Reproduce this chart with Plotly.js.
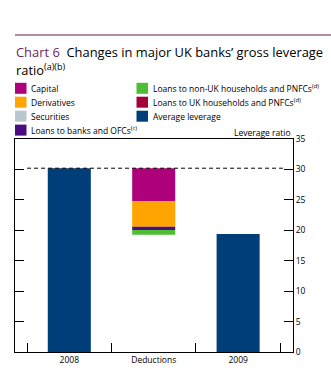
<!DOCTYPE html>
<html>
<head>
<meta charset="utf-8">
<script src="https://cdn.plot.ly/plotly-3.0.1.min.js"></script>
<style>html,body{margin:0;padding:0;background:#fff;}#chart{width:331px;height:369px;}</style>
</head>
<body>
<div id="chart"></div>
<script>
// ---- data ----
var categories = ['2008', 'Deductions', '2009'];
var leverageYears = ['2008', '2009'];
var leverageValues = [30.2, 19.4];
var deductionNames = ['Capital', 'Derivatives', 'Securities', 'Loans to banks and OFCs<sup>(c)</sup>',
  'Loans to UK households and PNFCs<sup>(d)</sup>', 'Loans to non-UK households and PNFCs<sup>(d)</sup>'];
var deductionValues = [5.4, 4.2, 0.0, 0.55, 0.0, 0.8];
var deductionColors = ['#AE007B', '#FFA400', '#BCC6CD', '#4B0C82', '#A5003A', '#4DBE34'];
var leverageName = 'Average leverage';
var leverageColor = '#003E79';
var yTicks = [0, 5, 10, 15, 20, 25, 30, 35];

// ---- traces ----
var traces = [];
var runningTop = leverageValues[0];
for (var i = 0; i < deductionNames.length; i++) {
  traces.push({
    type: 'bar', x: ['Deductions'], y: [deductionValues[i]], base: [runningTop - deductionValues[i]],
    name: deductionNames[i], marker: {color: deductionColors[i], line: {width: 0}},
    width: 0.51, showlegend: false, hoverinfo: 'skip'
  });
  runningTop -= deductionValues[i];
}
traces.push({
  type: 'bar', x: leverageYears, y: leverageValues, name: leverageName,
  marker: {color: leverageColor, line: {width: 0}}, width: 0.51, showlegend: false, hoverinfo: 'skip'
});

// ---- layout helpers ----
var L = 15, R = 293, T = 139, B = 352;
function px(x) { return (x - L) / (R - L); }
function py(y) { return (B - y) / (B - T); }

var shapes = [
  {type: 'line', xref: 'x', yref: 'y', x0: -0.5, x1: 2.53, y0: leverageValues[0], y1: leverageValues[0],
   line: {color: '#000', width: 1, dash: '4px,3px'}},
  {type: 'line', xref: 'paper', yref: 'paper', x0: px(15), x1: px(331), y0: py(35), y1: py(35),
   line: {color: '#5B1D50', width: 1}}
];
var annotations = [
  {xref: 'paper', yref: 'paper', x: px(292.5), y: py(132), xanchor: 'right', yanchor: 'middle',
   text: 'Leverage ratio', showarrow: false, font: {size: 8.5, color: '#000'}},
  {xref: 'paper', yref: 'paper', x: px(14), y: py(52), xanchor: 'left', yanchor: 'middle',
   text: "<span style='color:#6E1F60'>Chart 6</span>  Changes in major UK banks’ gross leverage",
   showarrow: false, font: {size: 12.9, color: '#000'}},
  {xref: 'paper', yref: 'paper', x: px(14), y: py(69.5), xanchor: 'left', yanchor: 'middle',
   text: "ratio<sup>(a)(b)</sup>", showarrow: false, font: {size: 12.9, color: '#000'}}
];

// legend (manual, two columns)
var legendItems = [
  {name: deductionNames[0], color: deductionColors[0], col: 0, row: 0},
  {name: deductionNames[1], color: deductionColors[1], col: 0, row: 1},
  {name: deductionNames[2], color: deductionColors[2], col: 0, row: 2},
  {name: deductionNames[3], color: deductionColors[3], col: 0, row: 3},
  {name: deductionNames[5], color: deductionColors[5], col: 1, row: 0},
  {name: deductionNames[4], color: deductionColors[4], col: 1, row: 1},
  {name: leverageName, color: leverageColor, col: 1, row: 2}
];
var colX = [15, 136.5];
var rowY = [88.3, 102.2, 116.2, 130.1];
legendItems.forEach(function (it) {
  var x0 = colX[it.col], yc = rowY[it.row];
  shapes.push({type: 'rect', xref: 'paper', yref: 'paper', x0: px(x0), x1: px(x0 + 11.5),
    y0: py(yc + 5.5), y1: py(yc - 5.5), fillcolor: it.color, line: {width: 0}});
  annotations.push({xref: 'paper', yref: 'paper', x: px(x0 + 14), y: py(yc), xanchor: 'left', yanchor: 'middle',
    text: it.name, showarrow: false, font: {size: 8.5, color: '#000'}});
});

var layout = {
  width: 331, height: 369,
  margin: {l: L, r: 331 - R, t: T, b: 369 - B, pad: 0},
  paper_bgcolor: '#fff', plot_bgcolor: '#fff',
  font: {family: 'Open Sans, sans-serif', color: '#000'},
  barmode: 'overlay',
  showlegend: false,
  xaxis: {
    type: 'category', categoryorder: 'array', categoryarray: categories,
    range: [-0.643, 2.65], tickson: 'boundaries', ticks: 'inside', ticklen: 9, tickcolor: '#000', tickwidth: 1,
    showline: true, linecolor: '#000', linewidth: 1, mirror: true, showgrid: false, zeroline: false,
    tickfont: {size: 8.5}, fixedrange: true
  },
  yaxis: {
    range: [0, 35], tickvals: yTicks, side: 'right', ticks: 'inside', ticklen: 9, tickcolor: '#000', tickwidth: 1,
    showline: true, linecolor: '#000', linewidth: 1, mirror: 'ticks', showgrid: false, zeroline: false,
    tickfont: {size: 8.5}, fixedrange: true
  },
  shapes: shapes,
  annotations: annotations
};

Plotly.newPlot('chart', traces, layout, {displayModeBar: false, staticPlot: true});
</script>
</body>
</html>
